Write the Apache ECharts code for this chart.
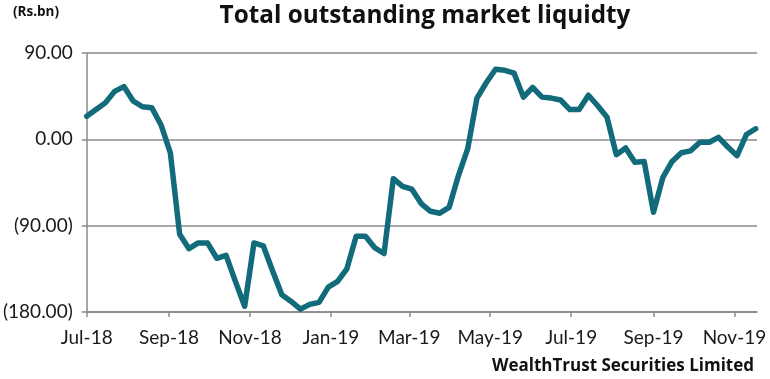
<!DOCTYPE html>
<html>
<head>
<meta charset="utf-8">
<script src="https://cdn.jsdelivr.net/npm/echarts@6/dist/echarts.min.js"></script>
<style>
html,body{margin:0;padding:0;background:#fff;}
#chart{width:770px;height:379px;}
</style>
</head>
<body>
<div id="chart"></div>
<script>
// Weekly observation dates
var dates = [
 '2018-07-01','2018-07-08','2018-07-15','2018-07-22','2018-07-29',
 '2018-08-05','2018-08-12','2018-08-19','2018-08-26',
 '2018-09-02','2018-09-09','2018-09-16','2018-09-23','2018-09-30',
 '2018-10-07','2018-10-14','2018-10-21','2018-10-28',
 '2018-11-04','2018-11-11','2018-11-18','2018-11-25',
 '2018-12-02','2018-12-09','2018-12-16','2018-12-23','2018-12-30',
 '2019-01-06','2019-01-13','2019-01-20','2019-01-27',
 '2019-02-03','2019-02-10','2019-02-17','2019-02-24',
 '2019-03-03','2019-03-10','2019-03-17','2019-03-24','2019-03-31',
 '2019-04-07','2019-04-14','2019-04-21','2019-04-28',
 '2019-05-05','2019-05-12','2019-05-19','2019-05-26',
 '2019-06-02','2019-06-09','2019-06-16','2019-06-23','2019-06-30',
 '2019-07-07','2019-07-14','2019-07-21','2019-07-28',
 '2019-08-04','2019-08-11','2019-08-18','2019-08-25',
 '2019-09-01','2019-09-08','2019-09-15','2019-09-22','2019-09-29',
 '2019-10-06','2019-10-13','2019-10-20','2019-10-27',
 '2019-11-03','2019-11-10','2019-11-17'
];
// Total outstanding market liquidity (Rs.bn)
var liquidity = [
 24, 31, 38, 50, 55, 40, 34, 33, 15, -14,
 -99, -114, -108, -108, -124, -121, -148, -174, -108, -111,
 -137, -162, -169, -177, -172, -170, -154, -148, -135, -101,
 -101, -113, -119, -41, -49, -52, -67, -75, -77, -71,
 -38, -10, 43, 59, 73, 72, 69, 44, 54, 44,
 43, 41, 31, 31, 46, 35, 23, -16, -9, -24,
 -23, -76, -40, -23, -14, -12, -3, -3, 2, -8,
 -17, 5, 11
];
// Axis tick dates and labels
var tickDates = ['2018-07-01','2018-09-01','2018-11-01','2019-01-01','2019-03-01','2019-05-01','2019-07-01','2019-09-01','2019-11-01'];
var tickLabels = ['Jul-18','Sep-18','Nov-18','Jan-19','Mar-19','May-19','Jul-19','Sep-19','Nov-19'];
var yTicks = [90, 0, -90, -180];
var yTickLabels = ['90.00', '0.00', '(90.00)', '(180.00)'];

var DAY = 86400000;
function dayNum(s){ var p = s.split('-'); return Math.round(Date.UTC(+p[0], +p[1]-1, +p[2]) / DAY); }
var tickDays = tickDates.map(dayNum);
var seriesData = dates.map(function(d,i){ return [dayNum(d), liquidity[i]]; });

var chart = echarts.init(document.getElementById('chart'), null, {renderer:'canvas'});
var FONT = 'Lato';
var BFONT = 'Open Sans';
chart.setOption({
  animation: false,
  backgroundColor: '#ffffff',
  title: [
    { text: 'Total outstanding market liquidty', left: 420, top: -1, textAlign: 'center',
      textStyle: { fontFamily: BFONT, fontWeight: 'bold', fontSize: 24.3, color: '#111' } },
    { text: '(Rs.bn)', left: 8, top: 0,
      textStyle: { fontFamily: BFONT, fontWeight: 'bold', fontSize: 13.5, color: '#111' } },
    { text: 'WealthTrust Securities Limited', right: 11, top: 353,
      textStyle: { fontFamily: BFONT, fontWeight: 'bold', fontSize: 17, color: '#111' } }
  ],
  grid: { left: 83, right: 13, top: 53, bottom: 67 },
  xAxis: {
    type: 'value',
    min: dayNum('2018-07-01'),
    max: dayNum('2019-11-18'),
    axisLine: { show: true, onZero: false, lineStyle: { color: '#8a8a8a', width: 1.5 } },
    axisTick: { show: true, customValues: tickDays, length: 5, lineStyle: { color: '#8a8a8a', width: 1.5 } },
    axisLabel: {
      customValues: tickDays,
      margin: 16,
      fontFamily: FONT, fontSize: 19, color: '#1a1a1a',
      formatter: function(v){ var i = tickDays.indexOf(v); return i >= 0 ? tickLabels[i] : ''; }
    },
    splitLine: { show: false }
  },
  yAxis: {
    type: 'value',
    min: -180, max: 90, interval: 90,
    axisLine: { show: true, lineStyle: { color: '#8a8a8a', width: 1.5 } },
    axisTick: { show: true, length: 5, lineStyle: { color: '#8a8a8a', width: 1.5 } },
    axisLabel: {
      margin: 14,
      fontFamily: FONT, fontSize: 19, color: '#1a1a1a',
      formatter: function(v){ var i = yTicks.indexOf(v); return i >= 0 ? yTickLabels[i] : ''; }
    },
    splitLine: { show: true, lineStyle: { color: '#8a8a8a', width: 1.5 } }
  },
  series: [{
    type: 'line',
    data: seriesData,
    showSymbol: false,
    symbol: 'none',
    lineStyle: { color: '#116b7a', width: 5.5, join: 'round', cap: 'round' },
    itemStyle: { color: '#116b7a' }
  }]
});
</script>
</body>
</html>
